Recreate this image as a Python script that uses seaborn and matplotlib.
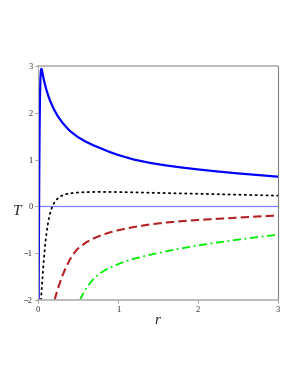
"""Temperature T(r) curves, Maple-style line plot."""

import pandas as pd
import matplotlib
matplotlib.use("Agg")
import matplotlib.pyplot as plt
import seaborn as sns

# values
r_blue = [0.008, 0.012, 0.016, 0.02, 0.025, 0.03, 0.036, 0.042, 0.048, 0.055, 0.065,
          0.075, 0.1, 0.125, 0.15, 0.2, 0.25, 0.3, 0.35, 0.4, 0.5, 0.6, 0.7, 0.8, 0.9,
          1.0, 1.2, 1.4, 1.6, 1.8, 2.0, 2.25, 2.5, 2.75, 3.0]
T_blue = [-2.0, -0.5, 0.8, 1.7, 2.35, 2.75, 2.9, 2.94, 2.92, 2.86, 2.77,
          2.69, 2.52, 2.38, 2.26, 2.07, 1.92, 1.8, 1.7, 1.61, 1.48, 1.38, 1.3, 1.23, 1.16,
          1.1, 1.0, 0.93, 0.875, 0.83, 0.79, 0.745, 0.705, 0.67, 0.635]

r_black = [0.038, 0.041, 0.05, 0.06, 0.07, 0.08, 0.09, 0.1, 0.11, 0.125, 0.14, 0.16,
           0.18, 0.2, 0.22, 0.25, 0.28, 0.32, 0.36, 0.42, 0.5, 0.6, 0.75, 1.0, 1.25,
           1.5, 2.0, 2.5, 3.0]
T_black = [-2.0, -1.9, -1.66, -1.43, -1.2, -0.99, -0.81, -0.66, -0.53, -0.36, -0.22, -0.09,
           0.0, 0.07, 0.12, 0.175, 0.215, 0.245, 0.265, 0.283, 0.297, 0.305, 0.31, 0.307,
           0.298, 0.288, 0.27, 0.25, 0.23]

r_red = [0.208, 0.23, 0.26, 0.3, 0.35, 0.4, 0.45, 0.5, 0.6, 0.7, 0.8, 0.9, 1.0, 1.2,
         1.4, 1.6, 1.8, 2.0, 2.25, 2.5, 2.75, 3.0]
T_red = [-2.0, -1.86, -1.7, -1.5, -1.3, -1.13, -1.0, -0.9, -0.77, -0.68, -0.61, -0.555,
         -0.51, -0.44, -0.385, -0.345, -0.315, -0.29, -0.265, -0.24, -0.215, -0.195]

r_green = [0.525, 0.56, 0.6, 0.65, 0.7, 0.775, 0.85, 0.95, 1.05, 1.15, 1.3, 1.45, 1.6,
           1.8, 2.0, 2.25, 2.5, 2.75, 3.0]
T_green = [-2.0, -1.88, -1.76, -1.64, -1.54, -1.43, -1.35, -1.27, -1.2, -1.14, -1.075,
           -1.015, -0.96, -0.895, -0.835, -0.77, -0.71, -0.655, -0.605]

x_ticks = [0, 1, 2, 3]
y_ticks = [-2, -1, 0, 1, 2, 3]

sns.set_style("white")
plt.rcParams["font.family"] = ["Liberation Serif", "DejaVu Serif"]

fig = plt.figure(figsize=(3.0, 3.88), dpi=100)
ax = fig.add_axes([38 / 300, 1 - 300 / 388, 240 / 300, 234 / 388])

ax.axhline(0, color="#8080ff", lw=0.9, zorder=1)

curves = [
    (r_blue, T_blue, dict(color="#0000ff", lw=1.6, linestyle="-")),
    (r_black, T_black, dict(color="black", lw=1.3, linestyle=(0, (0.7, 2.3)),
                             dash_capstyle="round")),
    (r_red, T_red, dict(color="#b22222", lw=1.5, linestyle=(0, (4, 2)))),
    (r_green, T_green, dict(color="#00ee00", lw=1.3, linestyle=(0, (4.5, 2, 1, 2)))),
]
for rs, ts, style in curves:
    df = pd.DataFrame({"r": rs, "T": ts})
    sns.lineplot(data=df, x="r", y="T", ax=ax, estimator=None, **style)

ax.set_xlim(0, 3)
ax.set_ylim(-2, 3)
ax.set_xticks(x_ticks)
ax.set_yticks(y_ticks)
ax.set_xticklabels([str(v) for v in x_ticks])
ax.set_yticklabels([str(v).replace("-", "\u2212") for v in y_ticks])
ax.set_xticks([0.5, 1.5, 2.5], minor=True)
ax.tick_params(axis="both", which="major", labelsize=6, length=2.5, width=0.6,
               color="#888888", pad=1.5)
ax.tick_params(axis="x", which="minor", length=1.5, width=0.5, color="#888888")
ax.tick_params(left=True, bottom=True)

for side in ["top", "bottom"]:
    ax.spines[side].set_color("#b0b0b0")
    ax.spines[side].set_linewidth(1.2)
ax.spines["right"].set_color("#808080")
ax.spines["right"].set_linewidth(0.8)
ax.spines["left"].set_color("#b0b0b0")

ax.set_xlabel("")
ax.set_ylabel("")
fig.text(17 / 300, 1 - 212 / 388, "T", fontsize=11, style="italic",
         ha="center", va="center")
fig.text(157 / 300, 1 - 320 / 388, "r", fontsize=11, style="italic",
         ha="center", va="center")

fig.savefig("out.png", dpi=100)
